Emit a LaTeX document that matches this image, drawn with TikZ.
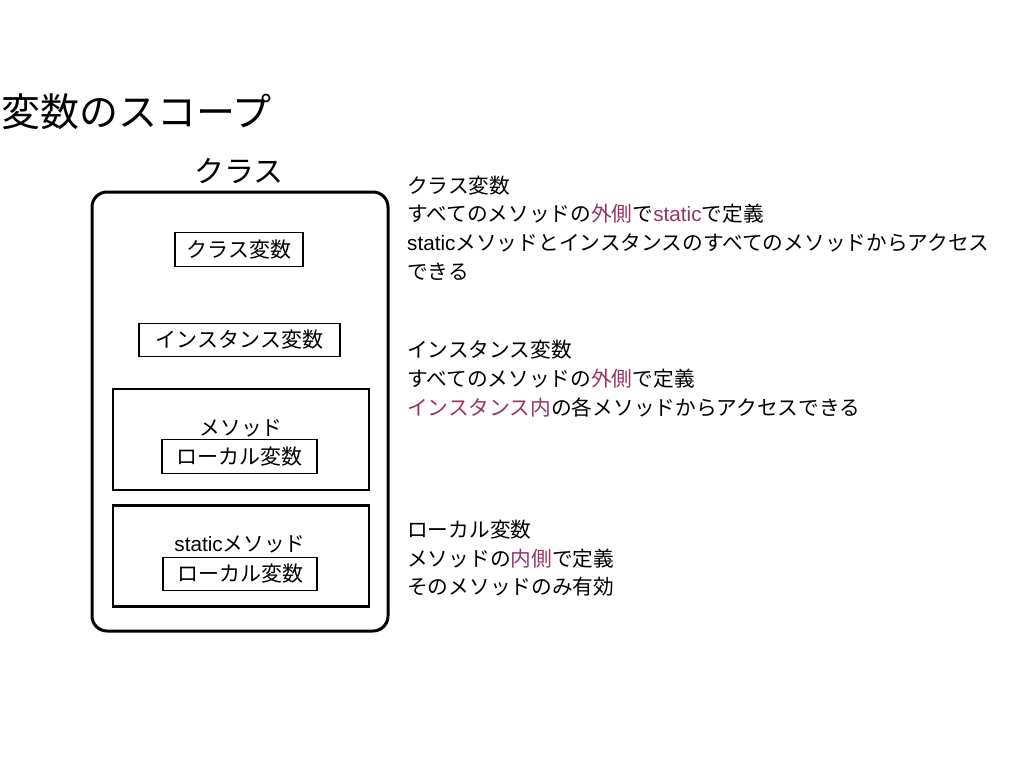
\documentclass[tikz,border=0pt]{standalone}
\usepackage{fontspec}
\setmainfont{Noto Sans CJK JP}
\newfontfamily\latf{Liberation Sans}
\definecolor{accent}{HTML}{993366}
\newcommand{\st}{{\latf static}}
\begin{document}
\begin{tikzpicture}[x=1pt,y=-1pt,
  txt/.style={inner sep=0pt,font=\fontsize{20.7}{25}\selectfont},
  line/.style={txt,anchor=west},
  vbox/.style={draw,line width=1.2pt,inner sep=0pt,font=\fontsize{21}{25}\selectfont},
  mbox/.style={draw,line width=2.6pt,minimum width=256pt,minimum height=101pt,inner sep=0pt}]
\useasboundingbox (0,0) rectangle (1024,768);
\node[inner sep=0pt,anchor=west,font=\fontsize{39}{43}\selectfont] (title) at (1,112) {変数のスコープ};
\node[inner sep=0pt,font=\fontsize{30}{34}\selectfont] (clsname) at (239,171) {クラス};
\node[draw,rounded corners=15pt,line width=3pt,minimum width=296pt,minimum height=439pt] (cls) at (240,411.5) {};
\node[vbox,minimum width=128pt,minimum height=34pt] (cv) at (239,249.5) {クラス変数};
\node[vbox,minimum width=201pt,minimum height=33pt] (iv) at (239.5,340) {インスタンス変数};
\node[mbox] (m) at (241,439.5) {};
\node[txt] (mname) at (241,428) {メソッド};
\node[vbox,minimum width=155pt,minimum height=34pt] (mlv) at (239.5,456.5) {ローカル変数};
\node[mbox] (sm) at (241,556) {};
\node[txt] (smname) at (240,544) {\st メソッド};
\node[vbox,minimum width=154pt,minimum height=33pt] (smlv) at (240,574) {ローカル変数};
% right descriptions
\node[line] (a1) at (407,186) {クラス変数};
\node[line] (a2) at (407,214) {すべてのメソッドの\textcolor{accent}{外側}で\textcolor{accent}{\st}で定義};
\node[line] (a3) at (407,243) {\st メソッドとインスタンスのすべてのメソッドからアクセス};
\node[line] (a4) at (407,272) {できる};
\node[line] (b1) at (407,350) {インスタンス変数};
\node[line] (b2) at (407,379) {すべてのメソッドの\textcolor{accent}{外側}で定義};
\node[line] (b3) at (407,408) {\textcolor{accent}{インスタンス内}の各メソッドからアクセスできる};
\node[line] (c1) at (407,530) {ローカル変数};
\node[line] (c2) at (407,559) {メソッドの\textcolor{accent}{内側}で定義};
\node[line] (c3) at (407,587) {そのメソッドのみ有効};
\end{tikzpicture}
\end{document}
